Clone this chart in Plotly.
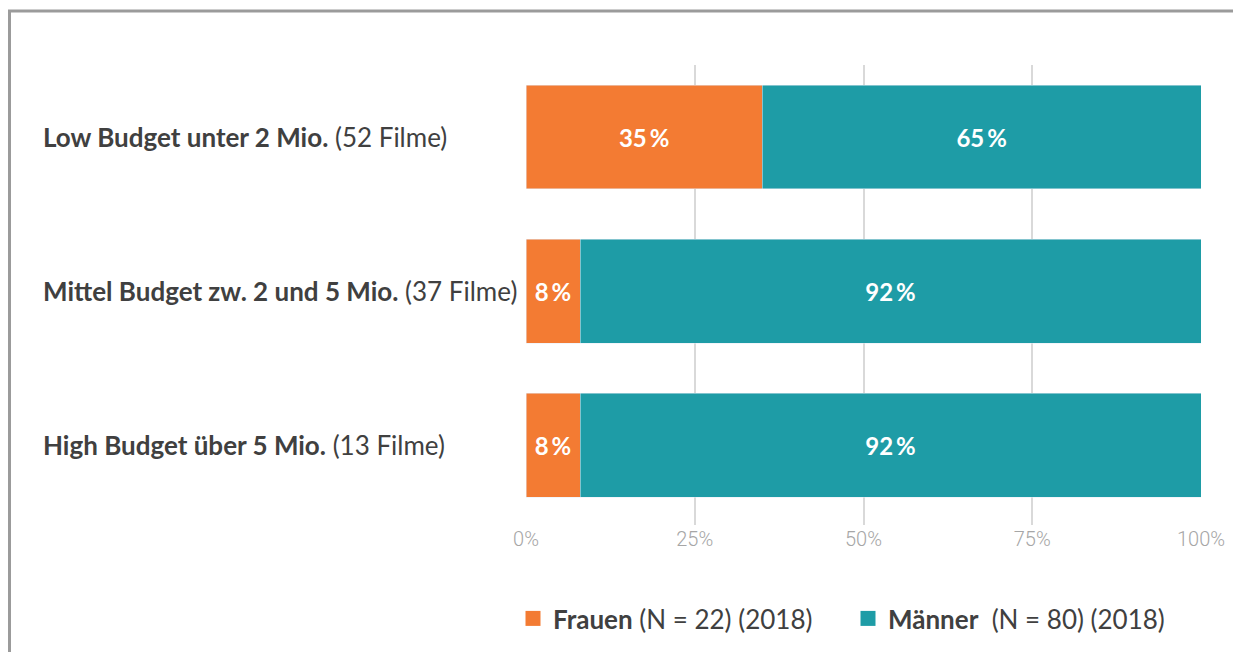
import plotly.graph_objects as go

categories = [
    "Low Budget unter 2 Mio.",
    "Mittel Budget zw. 2 und 5 Mio.",
    "High Budget über 5 Mio.",
]
film_counts = ["(52 Filme)", "(37 Filme)", "(13 Filme)"]
frauen = [35, 8, 8]
maenner = [65, 92, 92]
tick_vals = [0, 25, 50, 75, 100]
tick_text = ["0%", "25%", "50%", "75%", "100%"]

ORANGE = "#F37B33"
TEAL = "#1E9CA6"
TEXT = "#404040"

# page has an 8px body margin; positions below are given in page pixels
OFF = 8
W, H = 1241, 652
L, R, T, B = 526 - OFF, W - (1201 - OFF), 65 - OFF, H - (525 - OFF)
pw, ph = W - L - R, H - T - B


def px_x(x):
    return (x - OFF - L) / pw


def px_y(y):
    return (H - B - (y - OFF)) / ph


fig = go.Figure()
fig.add_trace(go.Bar(
    y=categories, x=frauen, orientation="h", marker_color=ORANGE,
    showlegend=False,
    text=[f"{v}\u2009%" for v in frauen], textposition="inside",
    insidetextanchor="middle", textangle=0,
    textfont=dict(family="Lato", size=24, color="white", weight="bold"),
))
fig.add_trace(go.Bar(
    y=categories, x=maenner, orientation="h", marker_color=TEAL,
    showlegend=False,
    text=[f"{v}\u2009%" for v in maenner], textposition="inside",
    insidetextanchor="middle", textangle=0,
    textfont=dict(family="Lato", size=24, color="white", weight="bold"),
))

# legend entries with bigger square swatches
for name, col in [("<b>Frauen</b> (N = 22) (2018)", ORANGE),
                  ("<b>Männer</b>  (N = 80) (2018)", TEAL)]:
    fig.add_trace(go.Scatter(
        x=[None], y=[None], mode="markers", name=name,
        marker=dict(symbol="square", size=15, color=col),
    ))

for cat, cnt in zip(categories, film_counts):
    fig.add_annotation(
        x=px_x(41), xref="paper", y=cat, yref="y", xanchor="left",
        text=f"<b>{cat}</b> {cnt}", showarrow=False,
        font=dict(family="Lato", size=26, color=TEXT),
    )

# outer frame
fig.add_shape(
    type="rect", xref="paper", yref="paper",
    x0=px_x(9.5), x1=px_x(1235.5), y0=px_y(680), y1=px_y(11),
    line=dict(color="#9b9b9b", width=3), layer="below",
)

fig.update_layout(
    width=W, height=H,
    margin=dict(l=L, r=R, t=T, b=B),
    barmode="stack", bargap=0.325,
    plot_bgcolor="white", paper_bgcolor="white",
    uniformtext=dict(minsize=24, mode="show"),
    xaxis=dict(
        range=[0, 100], tickvals=tick_vals, ticktext=tick_text,
        showgrid=True, gridcolor="#d9d9d9", gridwidth=1.5, zeroline=False,
        tickfont=dict(family="Roboto", size=20, color="#a6a6a6", weight=300),
        ticks="", ticklabelstandoff=0,
    ),
    yaxis=dict(range=[2.519, -0.4675], showticklabels=False, showgrid=False),
    legend=dict(
        orientation="h", x=px_x(513), xanchor="left", y=px_y(595), yanchor="top",
        font=dict(family="Lato", size=26, color=TEXT),
        itemsizing="trace", traceorder="normal", entrywidth=290,
    ),
    showlegend=True,
)

fig.write_html("out.html")
